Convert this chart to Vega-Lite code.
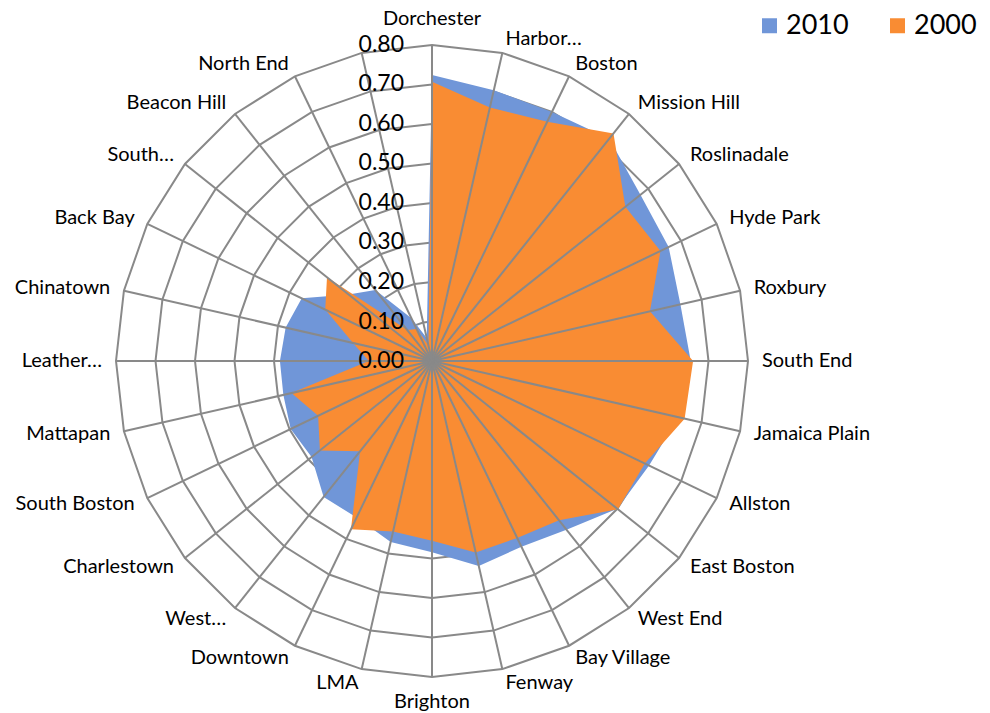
{
  "$schema": "https://vega.github.io/schema/vega-lite/v6.json",
  "width": 990,
  "height": 713,
  "padding": 0,
  "autosize": {"type": "none"},
  "background": "white",
  "config": {"view": {"stroke": null}, "font": "Lato", "text": {"font": "Lato"}},
  "datasets": {
    "cats": [
      {"i": 0, "name": "Dorchester", "y2010": 0.724, "y2000": 0.707},
      {"i": 1, "name": "Harbor…", "y2010": 0.703, "y2000": 0.658},
      {"i": 2, "name": "Boston", "y2010": 0.70, "y2000": 0.672},
      {"i": 3, "name": "Mission Hill", "y2010": 0.72, "y2000": 0.737},
      {"i": 4, "name": "Roslinadale", "y2010": 0.675, "y2000": 0.626},
      {"i": 5, "name": "Hyde Park", "y2010": 0.665, "y2000": 0.642},
      {"i": 6, "name": "Roxbury", "y2010": 0.645, "y2000": 0.566},
      {"i": 7, "name": "South End", "y2010": 0.655, "y2000": 0.661},
      {"i": 8, "name": "Jamaica Plain", "y2010": 0.64, "y2000": 0.656},
      {"i": 9, "name": "Allston", "y2010": 0.61, "y2000": 0.598},
      {"i": 10, "name": "East Boston", "y2010": 0.60, "y2000": 0.602},
      {"i": 11, "name": "West End", "y2010": 0.546, "y2000": 0.516},
      {"i": 12, "name": "Bay Village", "y2010": 0.522, "y2000": 0.497},
      {"i": 13, "name": "Fenway", "y2010": 0.532, "y2000": 0.497},
      {"i": 14, "name": "Brighton", "y2010": 0.484, "y2000": 0.455},
      {"i": 15, "name": "LMA", "y2010": 0.47, "y2000": 0.443},
      {"i": 16, "name": "Downtown", "y2010": 0.44, "y2000": 0.473},
      {"i": 17, "name": "West…", "y2010": 0.44, "y2000": 0.292},
      {"i": 18, "name": "Charlestown", "y2010": 0.39, "y2000": 0.363},
      {"i": 19, "name": "South Boston", "y2010": 0.397, "y2000": 0.32},
      {"i": 20, "name": "Mattapan", "y2010": 0.386, "y2000": 0.365},
      {"i": 21, "name": "Leather…", "y2010": 0.385, "y2000": 0.16},
      {"i": 22, "name": "Chinatown", "y2010": 0.38, "y2000": 0.205},
      {"i": 23, "name": "Back Bay", "y2010": 0.366, "y2000": 0.30},
      {"i": 24, "name": "South…", "y2010": 0.27, "y2000": 0.34},
      {"i": 25, "name": "Beacon Hill", "y2010": 0.23, "y2000": 0.10},
      {"i": 26, "name": "North End", "y2010": 0.12, "y2000": 0.09},
      {"i": 27, "name": "", "y2010": 0.06, "y2000": 0.04}
    ],
    "levels": [
      {"v": 0.0}, {"v": 0.1}, {"v": 0.2}, {"v": 0.3}, {"v": 0.4},
      {"v": 0.5}, {"v": 0.6}, {"v": 0.7}, {"v": 0.8}
    ],
    "rings": [
      {"v": 0.1, "i": [0,1,2,3,4,5,6,7,8,9,10,11,12,13,14,15,16,17,18,19,20,21,22,23,24,25,26,27]},
      {"v": 0.2, "i": [0,1,2,3,4,5,6,7,8,9,10,11,12,13,14,15,16,17,18,19,20,21,22,23,24,25,26,27]},
      {"v": 0.3, "i": [0,1,2,3,4,5,6,7,8,9,10,11,12,13,14,15,16,17,18,19,20,21,22,23,24,25,26,27]},
      {"v": 0.4, "i": [0,1,2,3,4,5,6,7,8,9,10,11,12,13,14,15,16,17,18,19,20,21,22,23,24,25,26,27]},
      {"v": 0.5, "i": [0,1,2,3,4,5,6,7,8,9,10,11,12,13,14,15,16,17,18,19,20,21,22,23,24,25,26,27]},
      {"v": 0.6, "i": [0,1,2,3,4,5,6,7,8,9,10,11,12,13,14,15,16,17,18,19,20,21,22,23,24,25,26,27]},
      {"v": 0.7, "i": [0,1,2,3,4,5,6,7,8,9,10,11,12,13,14,15,16,17,18,19,20,21,22,23,24,25,26,27]},
      {"v": 0.8, "i": [0,1,2,3,4,5,6,7,8,9,10,11,12,13,14,15,16,17,18,19,20,21,22,23,24,25,26,27]}
    ]
  },
  "encoding": {
    "x": {"field": "px", "type": "quantitative", "axis": null, "scale": {"domain": [-1.0937, 1.4127], "nice": false, "zero": false}},
    "y": {"field": "py", "type": "quantitative", "axis": null, "scale": {"domain": [-0.8911, 0.9139], "nice": false, "zero": false}}
  },
  "layer": [
    {
      "data": {"name": "rings"},
      "transform": [
        {"flatten": ["i"]},
        {"calculate": "datum.i * 2 * PI / 28", "as": "a"},
        {"calculate": "datum.v * sin(datum.a)", "as": "px"},
        {"calculate": "datum.v * cos(datum.a)", "as": "py"}
      ],
      "mark": {"type": "line", "interpolate": "linear-closed", "stroke": "#898989", "strokeWidth": 2},
      "encoding": {
        "detail": {"field": "v", "type": "nominal"},
        "order": {"field": "i", "type": "quantitative"}
      }
    },
    {
      "data": {"name": "cats"},
      "transform": [
        {"calculate": "datum.i * 2 * PI / 28", "as": "a"},
        {"calculate": "datum.y2010 * sin(datum.a)", "as": "px"},
        {"calculate": "datum.y2010 * cos(datum.a)", "as": "py"}
      ],
      "mark": {"type": "line", "interpolate": "linear-closed", "filled": true, "strokeWidth": 0},
      "encoding": {
        "order": {"field": "i", "type": "quantitative"},
        "fill": {
          "datum": "2010",
          "type": "nominal",
          "scale": {"domain": ["2010", "2000"], "range": ["#7096D8", "#F98C33"]},
          "legend": {
            "orient": "none", "legendX": 756, "legendY": 12, "direction": "horizontal",
            "title": null, "symbolType": "square", "symbolSize": 225, "symbolStrokeWidth": 0,
            "labelFontSize": 27, "labelFont": "Lato", "labelColor": "#000000",
            "columnPadding": 35, "labelOffset": 3, "padding": 0
          }
        }
      }
    },
    {
      "data": {"name": "cats"},
      "transform": [
        {"calculate": "datum.i * 2 * PI / 28", "as": "a"},
        {"calculate": "datum.y2000 * sin(datum.a)", "as": "px"},
        {"calculate": "datum.y2000 * cos(datum.a)", "as": "py"}
      ],
      "mark": {"type": "line", "interpolate": "linear-closed", "filled": true, "strokeWidth": 0},
      "encoding": {
        "order": {"field": "i", "type": "quantitative"},
        "fill": {"datum": "2000", "type": "nominal"}
      }
    },
    {
      "data": {"name": "cats"},
      "transform": [
        {"calculate": "datum.i * 2 * PI / 28", "as": "a"},
        {"calculate": "0.8 * sin(datum.a)", "as": "px"},
        {"calculate": "0.8 * cos(datum.a)", "as": "py"}
      ],
      "mark": {"type": "rule", "stroke": "#898989", "strokeWidth": 2},
      "encoding": {
        "x2": {"datum": 0},
        "y2": {"datum": 0}
      }
    },
    {
      "data": {"name": "levels"},
      "transform": [
        {"calculate": "0", "as": "px"},
        {"calculate": "datum.v", "as": "py"}
      ],
      "mark": {"type": "text", "align": "right", "baseline": "middle", "dx": -28, "fontSize": 23, "color": "#000000"},
      "encoding": {
        "text": {"field": "v", "type": "quantitative", "format": ".2f"}
      }
    },
    {
      "data": {"name": "cats"},
      "transform": [
        {"filter": "datum.i >= 1 && datum.i <= 13"},
        {"calculate": "datum.i * 2 * PI / 28", "as": "a"},
        {"calculate": "0.8354 * sin(datum.a)", "as": "px"},
        {"calculate": "0.8354 * cos(datum.a)", "as": "py"}
      ],
      "mark": {"type": "text", "align": "left", "baseline": "middle", "fontSize": 20, "color": "#000000"},
      "encoding": {"text": {"field": "name", "type": "nominal"}}
    },
    {
      "data": {"name": "cats"},
      "transform": [
        {"filter": "datum.i >= 15 && datum.i <= 27"},
        {"calculate": "datum.i * 2 * PI / 28", "as": "a"},
        {"calculate": "0.8354 * sin(datum.a)", "as": "px"},
        {"calculate": "0.8354 * cos(datum.a)", "as": "py"}
      ],
      "mark": {"type": "text", "align": "right", "baseline": "middle", "fontSize": 20, "color": "#000000"},
      "encoding": {"text": {"field": "name", "type": "nominal"}}
    },
    {
      "data": {"name": "cats"},
      "transform": [
        {"filter": "datum.i == 0"},
        {"calculate": "0", "as": "px"},
        {"calculate": "0.8354", "as": "py"}
      ],
      "mark": {"type": "text", "align": "center", "baseline": "bottom", "dy": -2, "fontSize": 20, "color": "#000000"},
      "encoding": {"text": {"field": "name", "type": "nominal"}}
    },
    {
      "data": {"name": "cats"},
      "transform": [
        {"filter": "datum.i == 14"},
        {"calculate": "0", "as": "px"},
        {"calculate": "-0.8354", "as": "py"}
      ],
      "mark": {"type": "text", "align": "center", "baseline": "top", "dy": 1, "fontSize": 20, "color": "#000000"},
      "encoding": {"text": {"field": "name", "type": "nominal"}}
    }
  ]
}
